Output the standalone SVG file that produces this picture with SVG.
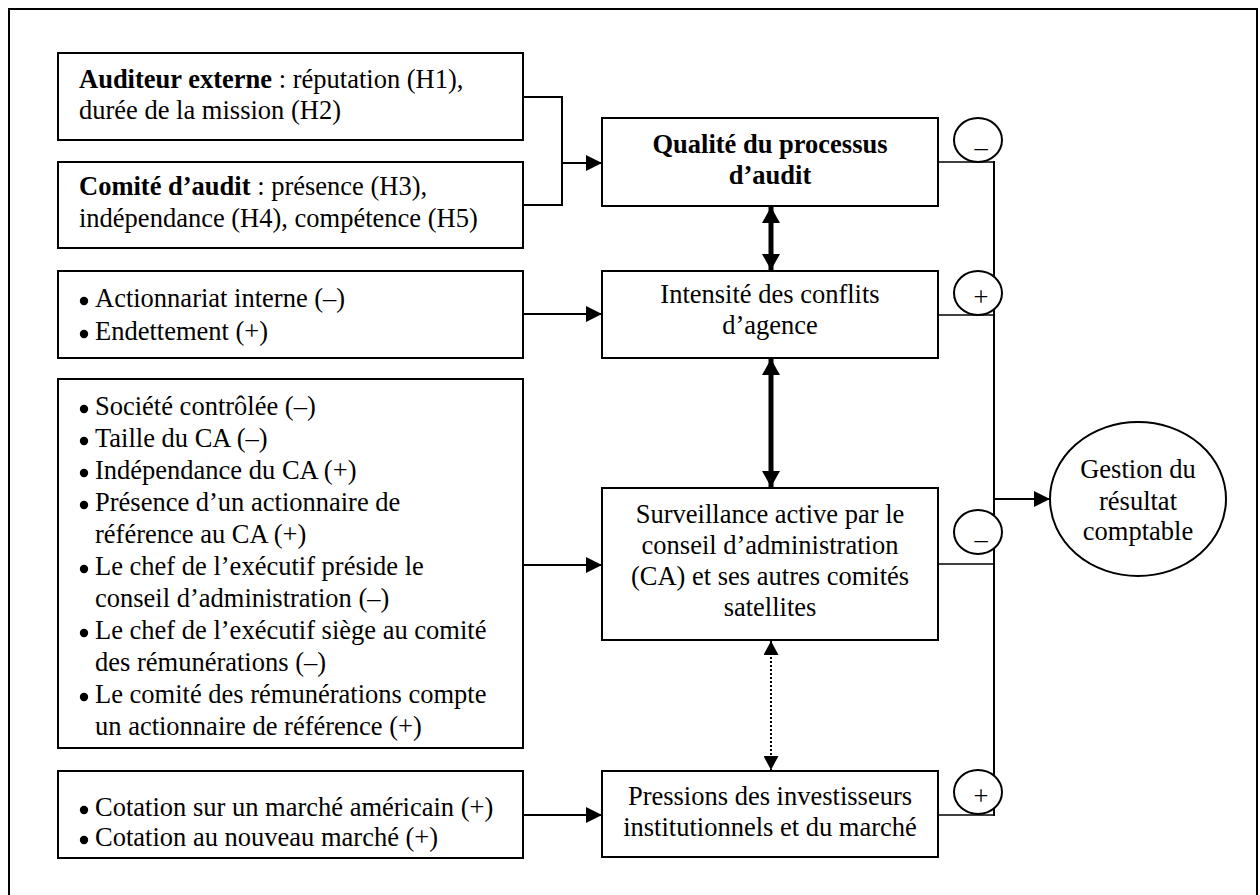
<svg xmlns="http://www.w3.org/2000/svg" width="1260" height="895" viewBox="0 0 1260 895">
<defs>
<style>
.box{fill:#fff;stroke:#000;stroke-width:2}
.t{font-family:"Liberation Serif","Times New Roman",serif;font-size:26.5px;fill:#000}
.c{text-anchor:middle}
.b{font-weight:bold}
.dot{fill:#000}
.ln{fill:none;stroke:#000;stroke-width:2}
.thin{fill:none;stroke:#000;stroke-width:1.5}
.sign{fill:#fff;stroke:#000;stroke-width:2}
</style>
<marker id="arr" viewBox="0 0 16 16" refX="16" refY="8" markerWidth="16" markerHeight="16" markerUnits="userSpaceOnUse" orient="auto-start-reverse">
<path d="M0,0 L16,8 L0,16 z" fill="#000"/>
</marker>
<marker id="arrT" viewBox="0 0 16 18" refX="16" refY="9" markerWidth="16" markerHeight="18" markerUnits="userSpaceOnUse" orient="auto-start-reverse">
<path d="M0,0 L16,9 L0,18 z" fill="#000"/>
</marker>
<marker id="arrD" viewBox="0 0 14 15" refX="14" refY="7.5" markerWidth="14" markerHeight="15" markerUnits="userSpaceOnUse" orient="auto-start-reverse">
<path d="M0,0 L14,7.5 L0,15 z" fill="#000"/>
</marker>
</defs>
<rect x="9" y="9" width="1248" height="900" fill="#fff" stroke="#000" stroke-width="2"/>

<g id="connectors">
<polyline class="ln" points="523,97 562,97 562,205 523,205"/>
<line class="ln" x1="562" y1="163" x2="602" y2="163" marker-end="url(#arr)"/>
<line class="ln" x1="523" y1="314" x2="602" y2="314" marker-end="url(#arr)"/>
<line class="ln" x1="523" y1="565" x2="602" y2="565" marker-end="url(#arr)"/>
<line class="ln" x1="523" y1="815" x2="602" y2="815" marker-end="url(#arr)"/>
<line x1="771" y1="207" x2="771" y2="270" stroke="#000" stroke-width="5" marker-start="url(#arrT)" marker-end="url(#arrT)"/>
<line x1="771" y1="359" x2="771" y2="487" stroke="#000" stroke-width="5" marker-start="url(#arrT)" marker-end="url(#arrT)"/>
<line x1="771" y1="641" x2="771" y2="770" stroke="#000" stroke-width="2" stroke-dasharray="2 2" marker-start="url(#arrD)" marker-end="url(#arrD)"/>
<line class="thin" x1="938" y1="162" x2="994" y2="162"/>
<line class="thin" x1="938" y1="315" x2="994" y2="315"/>
<line class="thin" x1="938" y1="564" x2="994" y2="564"/>
<line class="thin" x1="938" y1="815" x2="994" y2="815"/>
<line class="ln" x1="994" y1="161" x2="994" y2="816"/>
<line class="ln" x1="994" y1="499" x2="1050" y2="499" marker-end="url(#arr)"/>
</g>

<g id="sign1"><ellipse class="sign" cx="978" cy="140" rx="24" ry="22"/><text class="t c" x="981" y="156">–</text></g>
<g id="sign2"><ellipse class="sign" cx="978" cy="293" rx="24" ry="22"/><text class="t c" x="981" y="306">+</text></g>
<g id="sign3"><ellipse class="sign" cx="978" cy="532" rx="24" ry="22"/><text class="t c" x="981" y="548">–</text></g>
<g id="sign4"><ellipse class="sign" cx="978" cy="792" rx="24" ry="22"/><text class="t c" x="981" y="805">+</text></g>

<g id="auditeur">
<rect class="box" x="58" y="53" width="465" height="87"/>
<text class="t" x="79" y="88"><tspan class="b">Auditeur externe</tspan> : réputation (H1),</text>
<text class="t" x="79" y="119">durée de la mission (H2)</text>
</g>

<g id="comite">
<rect class="box" x="58" y="162" width="465" height="86"/>
<text class="t" x="79" y="195"><tspan class="b">Comité d’audit</tspan> : présence (H3),</text>
<text class="t" x="79" y="227">indépendance (H4), compétence (H5)</text>
</g>

<g id="actionnariat">
<rect class="box" x="58" y="271" width="465" height="87"/>
<circle class="dot" cx="84" cy="301" r="4.2"/><text class="t" x="95" y="307">Actionnariat interne (–)</text>
<circle class="dot" cx="84" cy="334" r="4.2"/><text class="t" x="95" y="340">Endettement (+)</text>
</g>

<g id="gouvernance">
<rect class="box" x="58" y="379" width="465" height="369"/>
<circle class="dot" cx="84" cy="409" r="4.2"/><text class="t" x="95" y="415">Société contrôlée (–)</text>
<circle class="dot" cx="84" cy="441" r="4.2"/><text class="t" x="95" y="447">Taille du CA (–)</text>
<circle class="dot" cx="84" cy="473" r="4.2"/><text class="t" x="95" y="479">Indépendance du CA (+)</text>
<circle class="dot" cx="84" cy="505" r="4.2"/><text class="t" x="95" y="511">Présence d’un actionnaire de</text>
<text class="t" x="95" y="543">référence au CA (+)</text>
<circle class="dot" cx="84" cy="569" r="4.2"/><text class="t" x="95" y="575">Le chef de l’exécutif préside le</text>
<text class="t" x="95" y="607">conseil d’administration (–)</text>
<circle class="dot" cx="84" cy="633" r="4.2"/><text class="t" x="95" y="639">Le chef de l’exécutif siège au comité</text>
<text class="t" x="95" y="671">des rémunérations (–)</text>
<circle class="dot" cx="84" cy="697" r="4.2"/><text class="t" x="95" y="703">Le comité des rémunérations compte</text>
<text class="t" x="95" y="735">un actionnaire de référence (+)</text>
</g>

<g id="cotation">
<rect class="box" x="58" y="771" width="465" height="87"/>
<circle class="dot" cx="84" cy="810" r="4.2"/><text class="t" x="95" y="816">Cotation sur un marché américain (+)</text>
<circle class="dot" cx="84" cy="840" r="4.2"/><text class="t" x="95" y="846">Cotation au nouveau marché (+)</text>
</g>

<g id="qualite">
<rect class="box" x="602" y="118" width="336" height="88"/>
<text class="t c b" x="770" y="153">Qualité du processus</text>
<text class="t c b" x="770" y="184">d’audit</text>
</g>

<g id="intensite">
<rect class="box" x="602" y="271" width="336" height="87"/>
<text class="t c" x="770" y="303">Intensité des conflits</text>
<text class="t c" x="770" y="334">d’agence</text>
</g>

<g id="surveillance">
<rect class="box" x="602" y="488" width="336" height="152"/>
<text class="t c" x="770" y="523">Surveillance active par le</text>
<text class="t c" x="770" y="554">conseil d’administration</text>
<text class="t c" x="770" y="585">(CA) et ses autres comités</text>
<text class="t c" x="770" y="616">satellites</text>
</g>

<g id="pressions">
<rect class="box" x="602" y="771" width="336" height="86"/>
<text class="t c" x="770" y="805">Pressions des investisseurs</text>
<text class="t c" x="770" y="836">institutionnels et du marché</text>
</g>

<g id="gestion">
<ellipse class="box" cx="1138" cy="499" rx="88" ry="77"/>
<text class="t c" x="1138" y="478">Gestion du</text>
<text class="t c" x="1138" y="510">résultat</text>
<text class="t c" x="1138" y="540">comptable</text>
</g>
</svg>
